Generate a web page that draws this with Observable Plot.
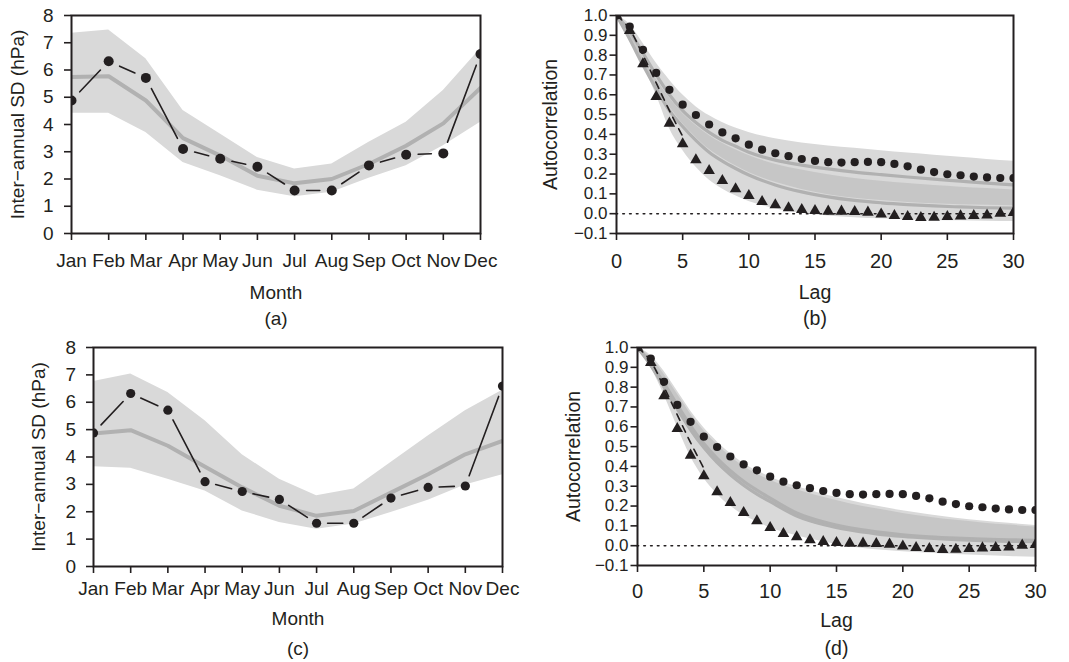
<!DOCTYPE html>
<html><head><meta charset="utf-8">
<script src="https://cdn.jsdelivr.net/npm/d3@7"></script>
<script src="https://cdn.jsdelivr.net/npm/@observablehq/plot@0.6"></script>
<style>
body{margin:0;background:#fff;}
#wrap{position:relative;width:1069px;height:662px;overflow:hidden;}
.panel{position:absolute;}
.panel svg{background:transparent !important;}
</style></head><body><div id="wrap"></div>
<script>
// ---------- data ----------
const months = ["Jan","Feb","Mar","Apr","May","Jun","Jul","Aug","Sep","Oct","Nov","Dec"];
const monthIdx = [0,1,2,3,4,5,6,7,8,9,10,11];
const obsSD  = [4.88,6.32,5.71,3.10,2.74,2.45,1.58,1.58,2.50,2.89,2.94,6.59];
const aMean  = [5.74,5.77,4.88,3.50,2.86,2.12,1.84,2.00,2.55,3.22,4.04,5.34];
const aUpper = [7.35,7.47,6.41,4.51,3.65,2.79,2.37,2.55,3.35,4.08,5.25,6.78];
const aLower = [4.41,4.41,3.71,2.61,2.12,1.59,1.35,1.51,2.03,2.49,3.22,4.08];
const cMean  = [4.86,4.98,4.41,3.64,2.89,2.22,1.85,2.03,2.70,3.37,4.10,4.59];
const cUpper = [6.76,7.03,6.36,5.32,4.08,3.19,2.58,2.83,3.80,4.77,5.69,6.44];
const cLower = [3.64,3.59,3.19,2.76,2.03,1.61,1.36,1.55,1.97,2.42,2.98,3.35];

const sdTicks = [0,1,2,3,4,5,6,7,8];
const acfTicks = [-0.1,0,0.1,0.2,0.3,0.4,0.5,0.6,0.7,0.8,0.9,1.0];
const lagTicks = [0,5,10,15,20,25,30];

const lags = [0,1,2,3,4,5,6,7,8,9,10,11,12,13,14,15,16,17,18,19,20,21,22,23,24,25,26,27,28,29,30];
const acfCircle = [1.0,0.944,0.827,0.71,0.625,0.55,0.498,0.45,0.41,0.38,0.348,0.323,0.305,0.29,0.276,0.266,0.26,0.258,0.26,0.261,0.26,0.251,0.239,0.222,0.21,0.199,0.194,0.187,0.183,0.18,0.18];
const acfTri = [1.0,0.924,0.756,0.59,0.456,0.352,0.271,0.217,0.167,0.125,0.091,0.061,0.044,0.029,0.02,0.015,0.012,0.012,0.01,0.007,-0.002,-0.01,-0.015,-0.02,-0.019,-0.015,-0.012,-0.01,-0.007,0.002,0.005];
const fitLags = [0,1,2,3,4,5];
const fitAcf  = [1.0,0.93,0.80,0.66,0.52,0.39];

const bandLags = [0,1,2,3,4,5,6,7,8,9,10,12,14,16,18,20,22,24,26,28,30];
// panel (b)
const bOuterUp = [1.0,0.955,0.86,0.76,0.675,0.60,0.54,0.495,0.46,0.432,0.41,0.378,0.357,0.342,0.33,0.318,0.306,0.295,0.285,0.274,0.264];
const bOuterLo = [1.0,0.90,0.75,0.60,0.43,0.32,0.235,0.17,0.125,0.09,0.062,0.025,0.002,-0.012,-0.02,-0.026,-0.031,-0.034,-0.036,-0.038,-0.04];
const bInnerUp = [1.0,0.91,0.79,0.68,0.585,0.505,0.445,0.395,0.355,0.322,0.293,0.25,0.22,0.196,0.178,0.164,0.152,0.142,0.134,0.127,0.12];
const bInnerLo = [1.0,0.89,0.765,0.645,0.54,0.455,0.385,0.325,0.28,0.242,0.208,0.158,0.122,0.096,0.078,0.066,0.057,0.05,0.045,0.042,0.04];
const bMeanA   = [1.0,0.92,0.81,0.70,0.60,0.52,0.46,0.41,0.37,0.34,0.31,0.27,0.245,0.226,0.21,0.197,0.185,0.174,0.164,0.154,0.145];
const bMeanB   = [1.0,0.88,0.75,0.63,0.52,0.44,0.37,0.31,0.265,0.228,0.195,0.145,0.11,0.085,0.067,0.055,0.046,0.039,0.034,0.03,0.028];
// panel (d)
const dOuterUp = [1.0,0.96,0.88,0.78,0.68,0.595,0.525,0.465,0.415,0.378,0.347,0.298,0.26,0.228,0.2,0.176,0.156,0.139,0.125,0.113,0.102];
const dInnerUp = [1.0,0.95,0.865,0.765,0.665,0.58,0.51,0.45,0.40,0.362,0.33,0.282,0.244,0.212,0.186,0.163,0.144,0.128,0.115,0.104,0.094];
const dInnerLo = [1.0,0.90,0.79,0.68,0.575,0.485,0.41,0.35,0.297,0.252,0.215,0.144,0.10,0.073,0.055,0.042,0.034,0.027,0.022,0.019,0.017];
const dOuterLo = [1.0,0.90,0.76,0.60,0.45,0.34,0.26,0.20,0.155,0.12,0.09,0.05,0.02,-0.005,-0.02,-0.03,-0.038,-0.045,-0.05,-0.055,-0.058];
const dMeanA   = [1.0,0.92,0.82,0.71,0.605,0.515,0.44,0.378,0.325,0.28,0.24,0.165,0.12,0.09,0.07,0.055,0.045,0.038,0.033,0.03,0.027];
const dMeanB   = [1.0,0.91,0.80,0.69,0.585,0.495,0.42,0.358,0.305,0.26,0.222,0.15,0.107,0.079,0.06,0.047,0.038,0.031,0.026,0.022,0.02];

// ---------- styling ----------
const INK = "#231f20";
const LIGHT = "#d9d9d9";
const DARK = "#c6c6c6";
const MEANC = "#b1b1b1";
const FONT = "Liberation Sans, Arial, Helvetica, sans-serif";

const wrap = document.getElementById("wrap");
function place(el, left, top) {
  const d = document.createElement("div");
  d.className = "panel";
  d.style.left = left + "px"; d.style.top = top + "px";
  d.appendChild(el); wrap.appendChild(d);
}

function monthPanel(o) {
  const rows = monthIdx.map((m, i) => ({m, obs: obsSD[i], mean: o.mean[i], up: o.upper[i], lo: o.lower[i]}));
  const pairs = d3.pairs(rows);
  return Plot.plot({
    width: o.width, height: o.height,
    marginLeft: o.mL, marginRight: o.mR, marginTop: o.mT, marginBottom: o.mB,
    style: {fontFamily: FONT, fontSize: "19px", color: INK, background: "transparent"},
    x: {domain: [0, 11]},
    y: {domain: [0, 8]},
    marks: [
      Plot.areaY(rows, {x: "m", y1: "lo", y2: "up", fill: LIGHT, clip: true}),
      Plot.line(rows, {x: "m", y: "mean", stroke: MEANC, strokeWidth: 4, clip: true}),
      Plot.arrow(pairs, {x1: d => d[0].m, y1: d => d[0].obs, x2: d => d[1].m, y2: d => d[1].obs,
        bend: 0, headLength: 0, inset: o.inset, stroke: INK, strokeWidth: 1.6, clip: true}),
      Plot.dot(rows, {x: "m", y: "obs", r: o.r, fill: INK, clip: true}),
      Plot.frame({stroke: INK, strokeWidth: 2}),
      Plot.axisX({ticks: monthIdx, tickFormat: i => months[i], tickSize: 7, tickPadding: o.xPad,
        strokeWidth: 1.6, label: null, fontSize: 19}),
      Plot.axisY({ticks: sdTicks, tickSize: 7, tickPadding: o.yPad, strokeWidth: 1.6, label: null, fontSize: 19}),
      Plot.text(["Month"], {frameAnchor: "bottom", dy: o.labDy, lineAnchor: "middle", fontSize: 19, fill: INK}),
      Plot.text([o.tag], {frameAnchor: "bottom", dy: o.tagDy, lineAnchor: "middle", fontSize: 19, fill: INK}),
      Plot.text(["Inter\u2212annual SD (hPa)"], {frameAnchor: "left", dx: o.yLabDx, rotate: -90,
        lineAnchor: "middle", textAnchor: "middle", fontSize: 19, fill: INK})
    ]
  });
}

function acfPanel(o) {
  const band = bandLags.map((l, i) => ({l, ou: o.ou[i], ol: o.ol[i], iu: o.iu[i], il: o.il[i], ma: o.ma[i], mb: o.mb[i]}));
  const pts = lags.map((l, i) => ({l, c: acfCircle[i], t: acfTri[i]}));
  const fit = fitLags.map((l, i) => ({l, v: fitAcf[i]}));
  return Plot.plot({
    width: o.width, height: o.height,
    marginLeft: o.mL, marginRight: o.mR, marginTop: o.mT, marginBottom: o.mB,
    style: {fontFamily: FONT, fontSize: "20px", color: INK, background: "transparent"},
    x: {domain: [0, 30]},
    y: {domain: [-0.1, 1.0]},
    marks: [
      Plot.areaY(band, {x: "l", y1: "ol", y2: "ou", fill: LIGHT, curve: "monotone-x", clip: true}),
      Plot.areaY(band, {x: "l", y1: "il", y2: "iu", fill: DARK, curve: "monotone-x", clip: true}),
      Plot.line(band, {x: "l", y: "ma", stroke: MEANC, strokeWidth: 3.2, curve: "monotone-x", clip: true}),
      Plot.line(band, {x: "l", y: "mb", stroke: MEANC, strokeWidth: 3.2, curve: "monotone-x", clip: true}),
      Plot.ruleY([0], {stroke: INK, strokeWidth: 1.6, strokeDasharray: "1.6,5.2", strokeLinecap: "round"}),
      Plot.line(fit, {x: "l", y: "v", stroke: INK, strokeWidth: 1.6, strokeDasharray: "7,6", curve: "monotone-x", clip: true}),
      Plot.dot(pts, {x: "l", y: "c", r: 4.1, fill: INK, clip: true}),
      Plot.dot(pts, {x: "l", y: "t", r: 4.3, symbol: "triangle", fill: INK, clip: true}),
      Plot.frame({stroke: INK, strokeWidth: 2}),
      Plot.axisX({ticks: lagTicks, tickSize: 7, tickPadding: o.xPad, strokeWidth: 1.6, label: null, fontSize: 20}),
      Plot.axisY({ticks: acfTicks, tickFormat: ".1f", tickSize: 6.5, tickPadding: o.yPad, strokeWidth: 1.6, label: null, fontSize: 17}),
      Plot.text(["Lag"], {frameAnchor: "bottom", dy: o.labDy, lineAnchor: "middle", fontSize: 19.5, fill: INK}),
      Plot.text([o.tag], {frameAnchor: "bottom", dy: o.tagDy, lineAnchor: "middle", fontSize: 19.5, fill: INK}),
      Plot.text(["Autocorrelation"], {frameAnchor: "left", dx: o.yLabDx, rotate: -90,
        lineAnchor: "middle", textAnchor: "middle", fontSize: 19.5, fill: INK})
    ]
  });
}

place(monthPanel({width: 534, height: 330, mL: 71, mR: 54, mT: 15, mB: 97,
  mean: aMean, upper: aUpper, lower: aLower, r: 5, inset: 12, xPad: 13, yPad: 11,
  labDy: 59, tagDy: 85, yLabDx: -53.5, tag: "(a)"}), 0, 0);

place(acfPanel({width: 539, height: 330, mL: 86, mR: 56, mT: 15, mB: 97,
  ou: bOuterUp, ol: bOuterLo, iu: bInnerUp, il: bInnerLo, ma: bMeanA, mb: bMeanB,
  xPad: 13, yPad: 2.5, labDy: 59, tagDy: 85, yLabDx: -66, tag: "(b)"}), 530, 0);

place(monthPanel({width: 534, height: 332, mL: 93, mR: 32, mT: 17, mB: 96,
  mean: cMean, upper: cUpper, lower: cLower, r: 4.6, inset: 11, xPad: 7.5, yPad: 10.5,
  labDy: 52, tagDy: 82, yLabDx: -55, tag: "(c)"}), 0, 330);

place(acfPanel({width: 539, height: 332, mL: 107, mR: 34, mT: 17, mB: 97,
  ou: dOuterUp, ol: dOuterLo, iu: dInnerUp, il: dInnerLo, ma: dMeanA, mb: dMeanB,
  xPad: 11, yPad: 2.5, labDy: 55, tagDy: 83, yLabDx: -64, tag: "(d)"}), 530, 330);
</script>
</body></html>
